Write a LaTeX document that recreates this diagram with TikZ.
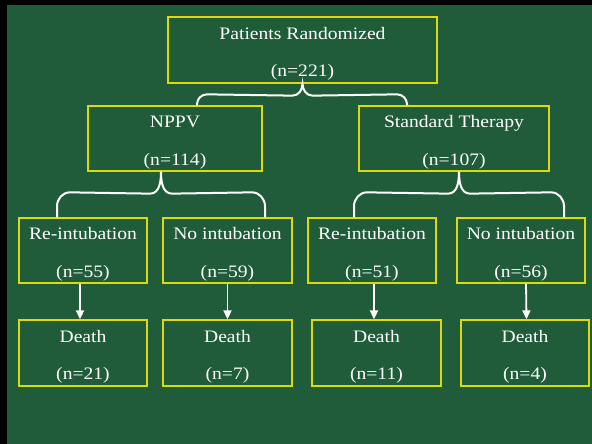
\documentclass[tikz,border=0pt]{standalone}
\usepackage{fontspec}
\setmainfont{Liberation Serif}[FakeStretch=1.12]
\usetikzlibrary{arrows.meta}
\usepackage{xcolor}
\definecolor{marble}{RGB}{32,92,57}
\definecolor{boxline}{RGB}{218,218,12}
\newcommand{\twolines}[2]{\rule{0pt}{20pt}#1\\#2}

\begin{document}
\begin{tikzpicture}[x=1pt, y=1pt,
    stage/.style={draw=boxline, line width=1.3pt, text=white, align=center,
        font=\fontsize{17.5}{37.5}\selectfont, inner sep=0pt, minimum height=65pt},
    leaf/.style={stage, minimum width=128pt},
    brace/.style={draw=white, line width=2pt},
    down/.style={draw=white, line width=1.8pt, -{Triangle[length=9pt,width=8pt]}}]
        \fill[marble] (0,0) rectangle (592,444);
        \fill[black] (0,0) rectangle (7,444);
        \fill[black] (0,439) rectangle (592,444);

        % boxes
        \node[stage, minimum width=269pt, minimum height=66pt] (top) at (302.5,394) {\twolines{Patients Randomized}{(n=221)}};
        \node[stage, minimum width=174pt] (nppv) at (175,305.5) {\twolines{NPPV}{(n=114)}};
        \node[stage, minimum width=190pt] (std) at (454,305.5) {\twolines{Standard Therapy}{(n=107)}};

        \node[leaf] (re1) at (83,193.5) {\twolines{Re-intubation}{(n=55)}};
        \node[leaf, minimum width=129pt] (no1) at (227.5,193.5) {\twolines{No intubation}{(n=59)}};
        \node[leaf] (re2) at (372,193.5) {\twolines{Re-intubation}{(n=51)}};
        \node[leaf] (no2) at (521,193.5) {\twolines{No intubation}{(n=56)}};

        \node[leaf, minimum height=66pt] (d1) at (83,91) {\twolines{Death}{(n=21)}};
        \node[leaf, minimum height=66pt, minimum width=129pt] (d2) at (227.5,91) {\twolines{Death}{(n=7)}};
        \node[leaf, minimum height=66pt, minimum width=129pt] (d3) at (376.5,91) {\twolines{Death}{(n=11)}};
        \node[leaf, minimum height=66pt] (d4) at (525,91) {\twolines{Death}{(n=4)}};

        % braces
        \draw[brace] ([xshift=22pt]nppv.north) -- ++(0,1) to[out=90,in=180] ++(10,10)
            -- ([xshift=-10pt,yshift=-12pt]top.south) to[out=0,in=-90] (top.south)
            to[out=-90,in=180] ++(10,-12) -- ([xshift=-57pt,yshift=11pt]std.north)
            to[out=0,in=90] ++(10,-10) -- ([xshift=-47pt]std.north);
        \draw[brace] ([xshift=-26pt]re1.north) -- ++(0,11) to[out=90,in=180] ++(13,14)
            -- ([xshift=-25pt,yshift=-22pt]nppv.south) to[out=0,in=-90] ([xshift=-14pt]nppv.south)
            to[out=-90,in=180] ++(11,-22) -- ([xshift=24.5pt,yshift=25pt]no1.north)
            to[out=0,in=90] ++(13,-14) -- ([xshift=37.5pt]no1.north);
        \draw[brace] ([xshift=-18pt]re2.north) -- ++(0,11) to[out=90,in=180] ++(13,14)
            -- ([xshift=-6pt,yshift=-22pt]std.south) to[out=0,in=-90] ([xshift=5pt]std.south)
            to[out=-90,in=180] ++(11,-22) -- ([xshift=30pt,yshift=25pt]no2.north)
            to[out=0,in=90] ++(13,-14) -- ([xshift=43pt]no2.north);

        % arrows
        \draw[down] ([xshift=-3pt]re1.south) -- ([xshift=-3pt]d1.north);
        \draw[down] (no1.south) -- (d2.north);
        \draw[down] ([xshift=2pt]re2.south) -- ([xshift=-2.5pt]d3.north);
        \draw[down] ([xshift=5pt]no2.south) -- ([xshift=1.5pt]d4.north);
\end{tikzpicture}
\end{document}
